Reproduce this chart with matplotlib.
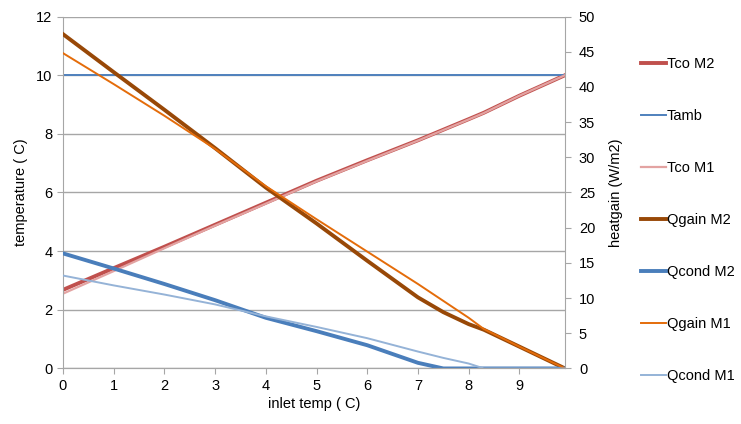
import matplotlib
matplotlib.use('Agg')
import matplotlib.pyplot as plt

plt.rcParams['font.family'] = ['Liberation Sans', 'DejaVu Sans']

# inlet temperature (x) and series
inlet = [0, 1, 2, 3, 4, 5, 6, 7, 7.5, 8, 8.3, 9, 9.9]

# left axis: temperatures (C)
tco_m2 = [2.68, 3.42, 4.15, 4.9, 5.65, 6.4, 7.1, 7.78, 8.14, 8.5, 8.72, 9.3, 10.0]
tamb = [10] * len(inlet)
tco_m1 = [2.55, 3.32, 4.1, 4.87, 5.62, 6.38, 7.08, 7.77, 8.13, 8.49, 8.71, 9.3, 10.0]

# right axis: heat gain (W/m2)
qgain_m2 = [47.5, 42.1, 36.75, 31.3, 25.7, 20.6, 15.3, 10.1, 8.0, 6.3, 5.5, 3.1, 0]
qcond_m2 = [16.35, 14.2, 12.0, 9.7, 7.2, 5.3, 3.3, 0.8, 0, 0, 0, 0, 0]
qgain_m1 = [44.8, 40.4, 35.9, 31.2, 25.9, 21.2, 16.6, 12.0, 9.6, 7.2, 5.6, 3.1, 0]
qcond_m1 = [13.2, 11.8, 10.5, 9.1, 7.4, 5.9, 4.3, 2.4, 1.5, 0.7, 0, 0, 0]

fig, ax = plt.subplots(figsize=(7.41, 4.24), dpi=100)
fig.subplots_adjust(left=0.085, right=0.7625, top=0.961, bottom=0.131)
ax2 = ax.twinx()

l1, = ax.plot(inlet, tco_m2, color='#C0504D', lw=2.8, label='Tco M2')
l2, = ax.plot(inlet, tamb, color='#4F81BD', lw=1.4, label='Tamb')
l3, = ax.plot(inlet, tco_m1, color='#E3A3A2', lw=1.6, label='Tco M1')
l4, = ax2.plot(inlet, qgain_m2, color='#984807', lw=2.8, label='Qgain M2')
l5, = ax2.plot(inlet, qcond_m2, color='#4A7EBB', lw=2.8, label='Qcond M2')
l6, = ax2.plot(inlet, qgain_m1, color='#E46C0A', lw=1.4, label='Qgain M1')
l7, = ax2.plot(inlet, qcond_m1, color='#95B3D7', lw=1.4, label='Qcond M1')

ax.set_xlim(0, 9.9)
ax.set_ylim(0, 12)
ax2.set_ylim(0, 50)
ax.set_xticks(range(10))
ax.set_yticks(range(0, 13, 2))
ax2.set_yticks(range(0, 51, 5))
ax.grid(axis='y', color='#A6A6A6', lw=1)
ax.set_axisbelow(True)

for a in (ax, ax2):
    a.spines['top'].set_visible(False)
    for s in ('left', 'right', 'bottom'):
        a.spines[s].set_color('#A6A6A6')
    a.tick_params(colors='#A6A6A6', labelcolor='black', labelsize=10.5, length=4)
ax2.tick_params(pad=6)
ax2.spines['left'].set_visible(False)
ax.spines['right'].set_visible(False)

ax.set_xlabel('inlet temp ( C)', fontsize=10.5, labelpad=3)
ax.set_ylabel('temperature ( C)', fontsize=10.5, labelpad=6)
ax2.set_ylabel('heatgain (W/m2)', fontsize=10.5, labelpad=10)

fig.legend(handles=[l1, l2, l3, l4, l5, l6, l7], loc='center left',
           bbox_to_anchor=(0.855, 0.481), frameon=False, fontsize=10.5,
           labelspacing=2.6, handlelength=1.7, handletextpad=0.1, borderpad=0)

fig.savefig('out.png', dpi=100)
